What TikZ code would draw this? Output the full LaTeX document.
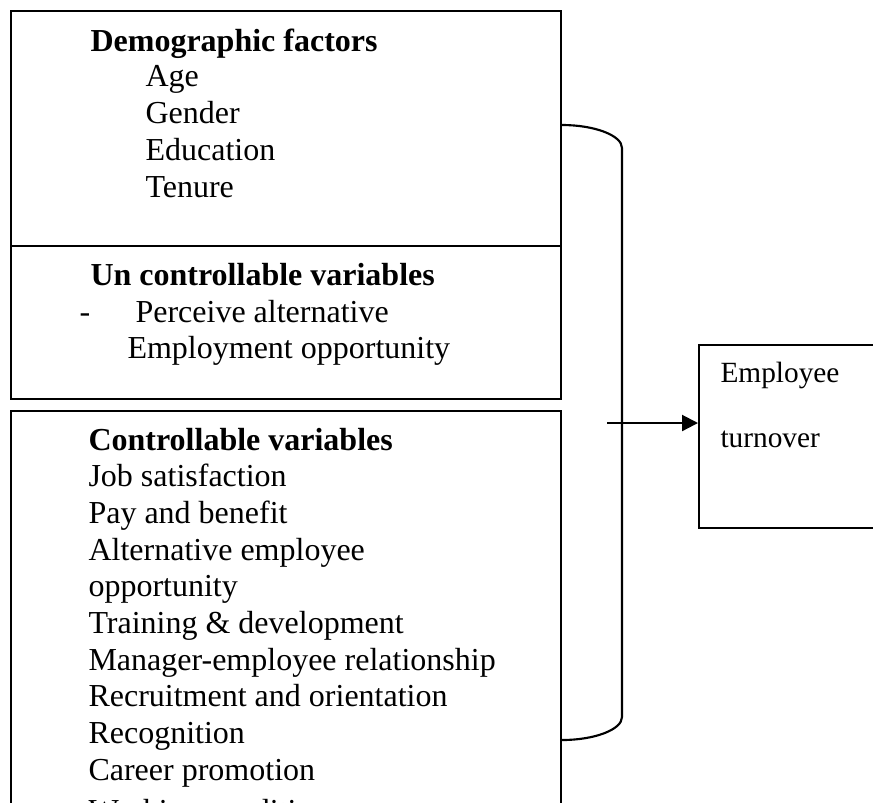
\documentclass[tikz,border=0pt]{standalone}
\usepackage{fontspec}
\setmainfont{Liberation Serif}
\usetikzlibrary{arrows.meta}
\usetikzlibrary{positioning}
\tikzset{
	>={Triangle[length=6pt,width=6pt]},
	factorbox/.style={
		rectangle,
		draw=black, line width=0.8pt,
		inner sep=0pt,
		minimum width=206.25pt,
		anchor=north west},
	heading/.style={
		anchor=base west,
		inner sep=0pt,
		font=\fontsize{12}{13.8}\selectfont\bfseries},
	entry/.style={
		anchor=base west,
		inner sep=0pt,
		font=\fontsize{12}{13.8}\selectfont},
	small entry/.style={
		entry,
		font=\fontsize{11}{12.6}\selectfont},
	bracket/.style={draw, line width=0.8pt},
	line/.style={draw, line width=0.8pt, ->},
}
\begin{document}
\begin{tikzpicture}
	[x=0.375pt, y=-0.375pt]

	\useasboundingbox (0,0) rectangle (873,802);
	\clip (0,0) rectangle (873,802);

	% the three boxes on the left
	\node[factorbox, minimum height=88.125pt] (demo) at (10,10) {};
	\node[factorbox, minimum height=57.375pt] (uncontrol) at (10,245) {};
	\node[factorbox, minimum height=247.5pt] (control) at (10,410) {};
	% and the outcome box on the right
	\node[factorbox, minimum width=82.5pt, minimum height=68.625pt] (turnover) at (698,344) {};

	% Demographic factors
	\node[heading] (demohead) at (90,51) {Demographic factors};
	\foreach \t [count=\i] in {Age, Gender, Education, Tenure}
		\node[entry] (demo\i) at (145,49+37*\i) {\t};

	% Un controllable variables
	\node[heading] (unhead) at (90,285) {Un controllable variables};
	\node[entry] (undash) at (79,322) {-};
	\node[entry] (un1) at (135,322) {Perceive alternative};
	\node[entry] (un2) at (127,358) {Employment opportunity};

	% Controllable variables, the last one runs off the bottom
	\node[heading] (ctrlhead) at (88,450) {Controllable variables};
	\foreach \t [count=\i] in {Job satisfaction, Pay and benefit,
		Alternative employee, opportunity, Training \& development,
		Manager-employee relationship, Recruitment and orientation,
		Recognition, Career promotion}
		\node[entry] (ctrl\i) at (88,450+36.7*\i) {\t};
	\node[entry] (ctrl10) at (88,821) {Working conditions};

	% Employee turnover
	\node[small entry] (emp1) at (720,382) {Employee};
	\node[small entry] (emp2) at (720,447) {turnover};

	% Now the bracket that gathers all the boxes
	\coordinate (btop) at (demo.east |- 0,125);
	\coordinate (bbot) at (control.east |- 0,740);
	\draw[bracket] (btop) .. controls (594.2,125) and (622,135.3) .. (622,148)
		-- (622,717) .. controls (622,729.7) and (594.2,740) .. (bbot);

	% and the arrow into the turnover box
	\coordinate (from) at (607,423);
	\draw[line] (from) -- (from -| turnover.west);
\end{tikzpicture}
\end{document}
